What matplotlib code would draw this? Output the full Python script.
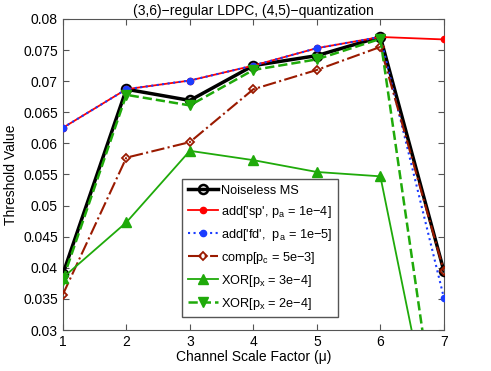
import numpy as np
import matplotlib
matplotlib.use('Agg')
from matplotlib import pyplot as plt

plt.rcParams['font.family'] = ['Liberation Sans', 'DejaVu Sans']
plt.rcParams['mathtext.fontset'] = 'custom'
plt.rcParams['mathtext.rm'] = 'Liberation Sans'

# data
mu = [1, 2, 3, 4, 5, 6, 7]
noiseless = [0.0390, 0.0687, 0.0669, 0.0725, 0.0741, 0.0771, 0.0395]
add_sp = [0.0625, 0.0687, 0.0701, 0.0725, 0.0753, 0.0771, 0.0767]
add_fd = [0.0625, 0.0687, 0.0701, 0.0725, 0.0753, 0.0771, 0.0352]
comp = [0.0357, 0.0577, 0.0602, 0.0687, 0.0718, 0.0755, 0.0395]
xor3 = [0.0384, 0.0473, 0.0588, 0.0573, 0.0554, 0.0547, 0.0045]
xor2 = [0.0381, 0.0678, 0.0661, 0.0718, 0.0735, 0.0768, 0.0060]

labels = ['Noiseless MS',
          "add['sp', $\\mathregular{p_a}$ = 1e\u22124]",
          "add['fd',  $\\mathregular{p_a}$ = 1e\u22125]",
          "comp[$\\mathregular{p_c}$ = 5e\u22123]",
          "XOR[$\\mathregular{p_x}$ = 3e\u22124]",
          "XOR[$\\mathregular{p_x}$ = 2e\u22124]"]

fig = plt.figure(figsize=(4.91, 3.71), dpi=100)
ax = fig.add_axes([0.128, 0.1105, 0.776, 0.8385])

ax.plot(mu, noiseless, '-', color='black', lw=2.5, marker='o', ms=6.5,
        mfc='none', mec='black', mew=1.8, label=labels[0], zorder=3)
ax.plot(mu, add_sp, '-', color='red', lw=1.3, marker='.', ms=9, label=labels[1], zorder=4)
ax.plot(mu, add_fd, ':', color='#1a3cff', lw=1.5, marker='.', ms=9, label=labels[2], zorder=4)
ax.plot(mu, comp, '-.', color='#9a1a00', lw=1.5, marker='D', ms=4.5,
        mfc='none', mec='#9a1a00', mew=1.3, label=labels[3], zorder=4)
ax.plot(mu, xor3, '-', color='#1faa0a', lw=1.3, marker='^', ms=6.5, label=labels[4], zorder=4)
ax.plot(mu, xor2, '--', color='#1faa0a', lw=1.8, marker='v', ms=6.5, label=labels[5], zorder=4)

ax.set_xlim(1, 7)
ax.set_ylim(0.03, 0.08)
ax.set_xticks(mu)
yt = np.arange(0.03, 0.0801, 0.005)
ax.set_yticks(yt)
ax.set_yticklabels(['%g' % round(v, 3) for v in yt])
ax.tick_params(direction='in', top=True, right=True, labelsize=10, length=4, color='#555555')
for s in ax.spines.values():
    s.set_color('#555555')

ax.set_title('(3,6)\u2212regular LDPC, (4,5)\u2212quantization', fontsize=10, pad=3)
ax.set_xlabel('Channel Scale Factor (\u03bc)', fontsize=10, labelpad=1)
ax.set_ylabel('Threshold Value', fontsize=10)

leg = ax.legend(loc='lower left', bbox_to_anchor=(0.297, 0.02), fontsize=9.2,
                fancybox=False, framealpha=1, edgecolor='#555555',
                handlelength=2.3, handletextpad=0.3, borderpad=0.45, labelspacing=0.55)

plt.savefig('out.png', dpi=100)
